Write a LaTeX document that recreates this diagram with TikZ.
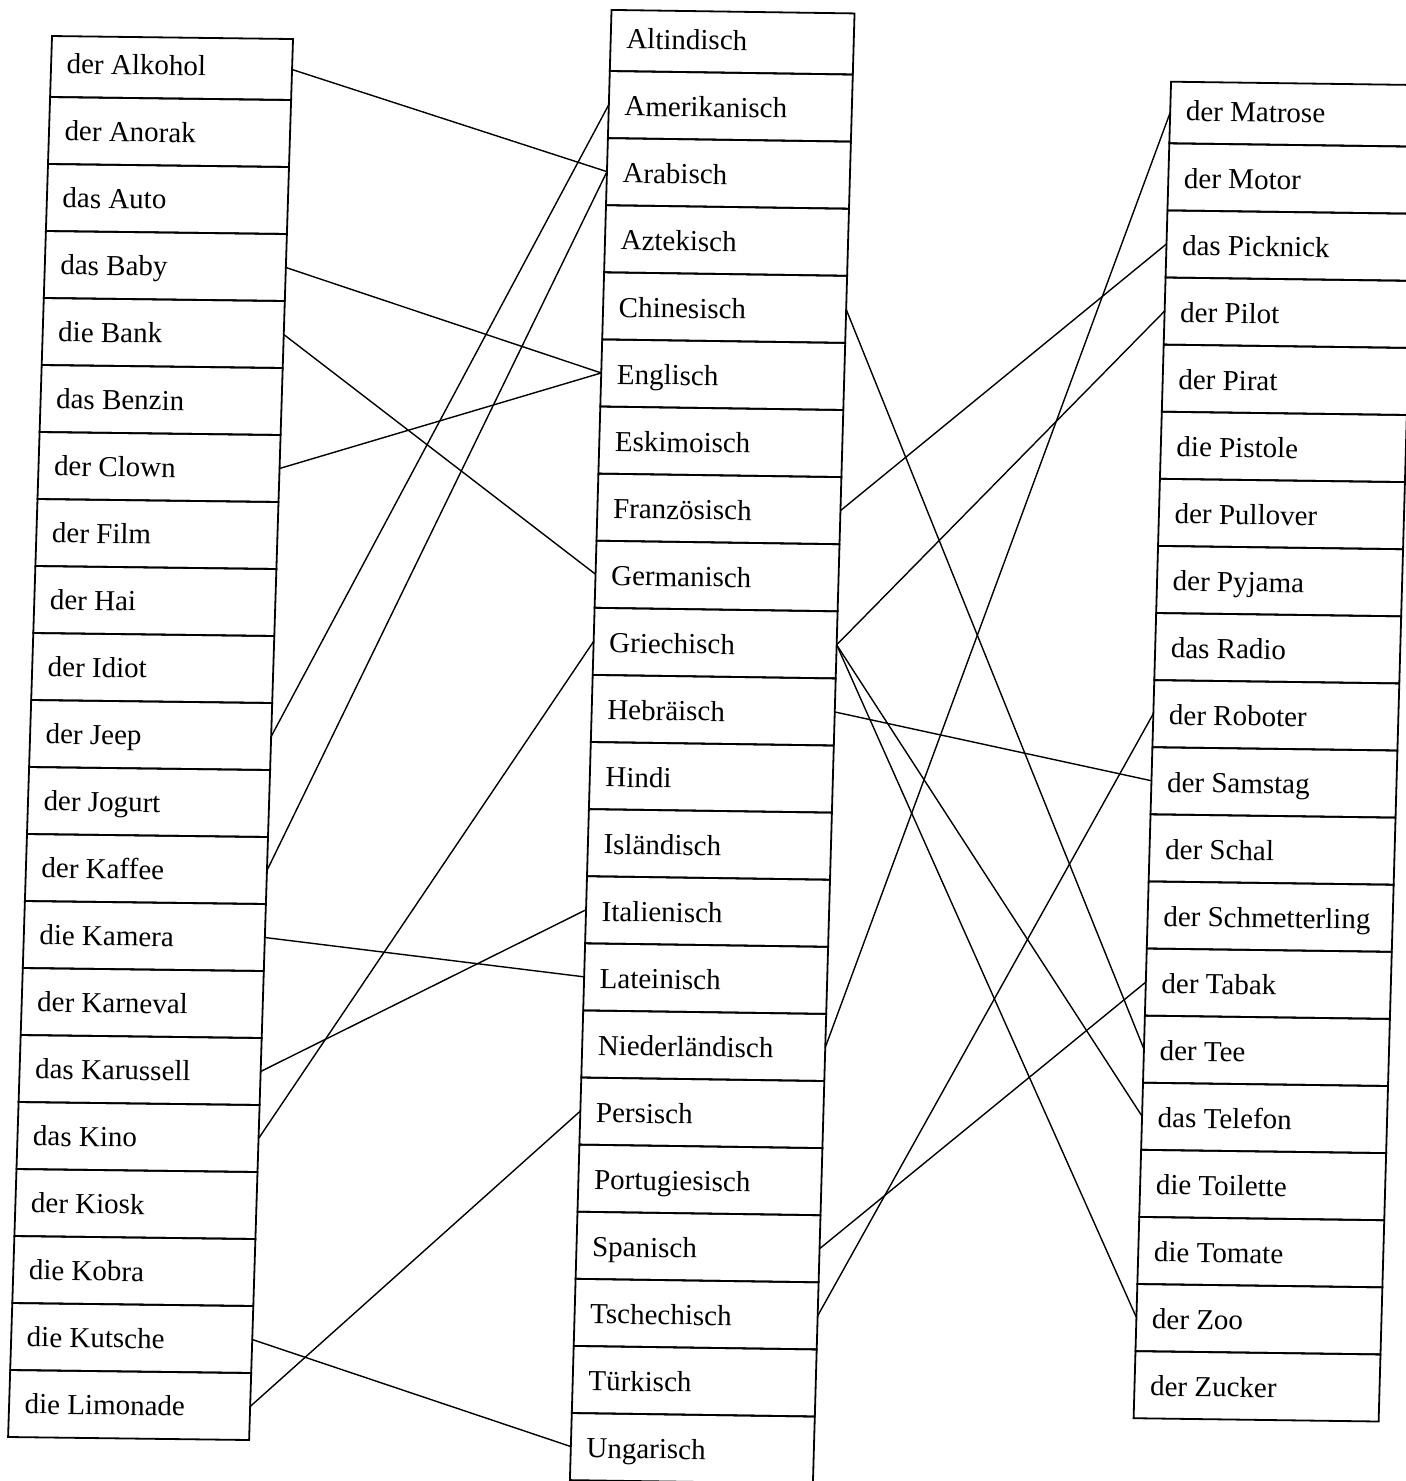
\documentclass[tikz,border=0pt]{standalone}
\usepackage{fontspec}
\setmainfont{Liberation Serif}
\usetikzlibrary{calc}

\tikzset{
  boxline/.style={line width=0.9pt, line join=miter},
  link/.style={line width=0.7pt, line cap=round},
  word/.style={anchor=base west, inner sep=0pt, outer sep=0pt,
               font=\fontsize{14.5}{17}\selectfont, rotate=-0.8},
}

% draws one column of boxes; geometry from \colX,\colY (left end of boundary 0),
% \colUx,\colUy (top edge vector), \colVx,\colVy (row step), \colTop (top border offset), \colBase
\newcommand\wordcol[1]{%
  \foreach [count=\i from 0] \w/\n in {#1} {%
    \pgfmathsetmacro\ka{\i==0 ? \colTop : \i}%
    \pgfmathsetmacro\kb{\i+1}%
    \pgfmathsetmacro\km{(\ka+\kb)/2}%
    \draw[boxline] ({\colX+\ka*(\colVx)},{\colY+\ka*(\colVy)})
      -- ({\colX+\colUx+\ka*(\colVx)},{\colY+\colUy+\ka*(\colVy)})
      -- ({\colX+\colUx+\kb*(\colVx)},{\colY+\colUy+\kb*(\colVy)})
      -- ({\colX+\kb*(\colVx)},{\colY+\kb*(\colVy)}) -- cycle;
    \coordinate (\n-w) at ({\colX+\km*(\colVx)},{\colY+\km*(\colVy)});
    \coordinate (\n-e) at ({\colX+\colUx+\km*(\colVx)},{\colY+\colUy+\km*(\colVy)});
    \node[word] (\n) at ({\colX+\kb*(\colVx)+16.5},{\colY+\kb*(\colVy)+0.2-\colBase}) {\w};
  }%
}

\begin{document}
\begin{tikzpicture}[x=0.5pt, y=-0.5pt]
\useasboundingbox (0,0) rectangle (1406,1481);
\clip (0,0) rectangle (1406,1481);
\fill[white] (0,0) rectangle (1406,1481);

% ---------- left column ----------
\def\colX{52.2}\def\colY{30}\def\colUx{241}\def\colUy{3}
\def\colVx{-2.1}\def\colVy{67}\def\colTop{0.09}\def\colBase{23.5}
\wordcol{der Alkohol/alkohol, der Anorak/anorak, das Auto/auto, das Baby/baby,
  die Bank/bank, das Benzin/benzin, der Clown/clown, der Film/film, der Hai/hai,
  der Idiot/idiot, der Jeep/jeep, der Jogurt/jogurt, der Kaffee/kaffee,
  die Kamera/kamera, der Karneval/karneval, das Karussell/karussell,
  das Kino/kino, der Kiosk/kiosk, die Kobra/kobra, die Kutsche/kutsche,
  die Limonade/limonade}

% ---------- middle column ----------
\def\colX{611.7}\def\colY{3.9}\def\colUx{243}\def\colUy{3.5}
\def\colVx{-1.9}\def\colVy{67.1}\def\colTop{0.09}\def\colBase{22.5}
\wordcol{Altindisch/altindisch, Amerikanisch/amerikanisch, Arabisch/arabisch,
  Aztekisch/aztekisch, Chinesisch/chinesisch, Englisch/englisch,
  Eskimoisch/eskimoisch, Französisch/franzoesisch, Germanisch/germanisch,
  Griechisch/griechisch, Hebräisch/hebraeisch, Hindi/hindi,
  Isländisch/islaendisch, Italienisch/italienisch, Lateinisch/lateinisch,
  Niederländisch/niederlaendisch, Persisch/persisch,
  Portugiesisch/portugiesisch, Spanisch/spanisch, Tschechisch/tschechisch,
  Türkisch/tuerkisch, Ungarisch/ungarisch}

% ---------- right column ----------
\def\colX{1171.2}\def\colY{76.2}\def\colUx{245}\def\colUy{3.3}
\def\colVx{-1.88}\def\colVy{67.1}\def\colTop{0.082}\def\colBase{22.5}
\wordcol{der Matrose/matrose, der Motor/motor, das Picknick/picknick,
  der Pilot/pilot, der Pirat/pirat, die Pistole/pistole,
  der Pullover/pullover, der Pyjama/pyjama, das Radio/radio,
  der Roboter/roboter, der Samstag/samstag, der Schal/schal,
  der Schmetterling/schmetterling, der Tabak/tabak, der Tee/tee,
  das Telefon/telefon, die Toilette/toilette, die Tomate/tomate,
  der Zoo/zoo, der Zucker/zucker}

% ---------- connectors left -> middle ----------
\draw[link] (alkohol-e) -- (arabisch-w);
\draw[link] (baby-e) -- (englisch-w);
\draw[link] (bank-e) -- (germanisch-w);
\draw[link] (clown-e) -- (englisch-w);
\draw[link] (jeep-e) -- (amerikanisch-w);
\draw[link] (kaffee-e) -- (arabisch-w);
\draw[link] (kamera-e) -- (lateinisch-w);
\draw[link] (karussell-e) -- (italienisch-w);
\draw[link] (kino-e) -- (griechisch-w);
\draw[link] (kutsche-e) -- (ungarisch-w);
\draw[link] (limonade-e) -- (persisch-w);

% ---------- connectors middle -> right ----------
\draw[link] (chinesisch-e) -- (tee-w);
\draw[link] (franzoesisch-e) -- (picknick-w);
\draw[link] (griechisch-e) -- (pilot-w);
\draw[link] (griechisch-e) -- (telefon-w);
\draw[link] (griechisch-e) -- (zoo-w);
\draw[link] (hebraeisch-e) -- (samstag-w);
\draw[link] (niederlaendisch-e) -- (matrose-w);
\draw[link] (spanisch-e) -- (tabak-w);
\draw[link] (tschechisch-e) -- (roboter-w);
\end{tikzpicture}
\end{document}
